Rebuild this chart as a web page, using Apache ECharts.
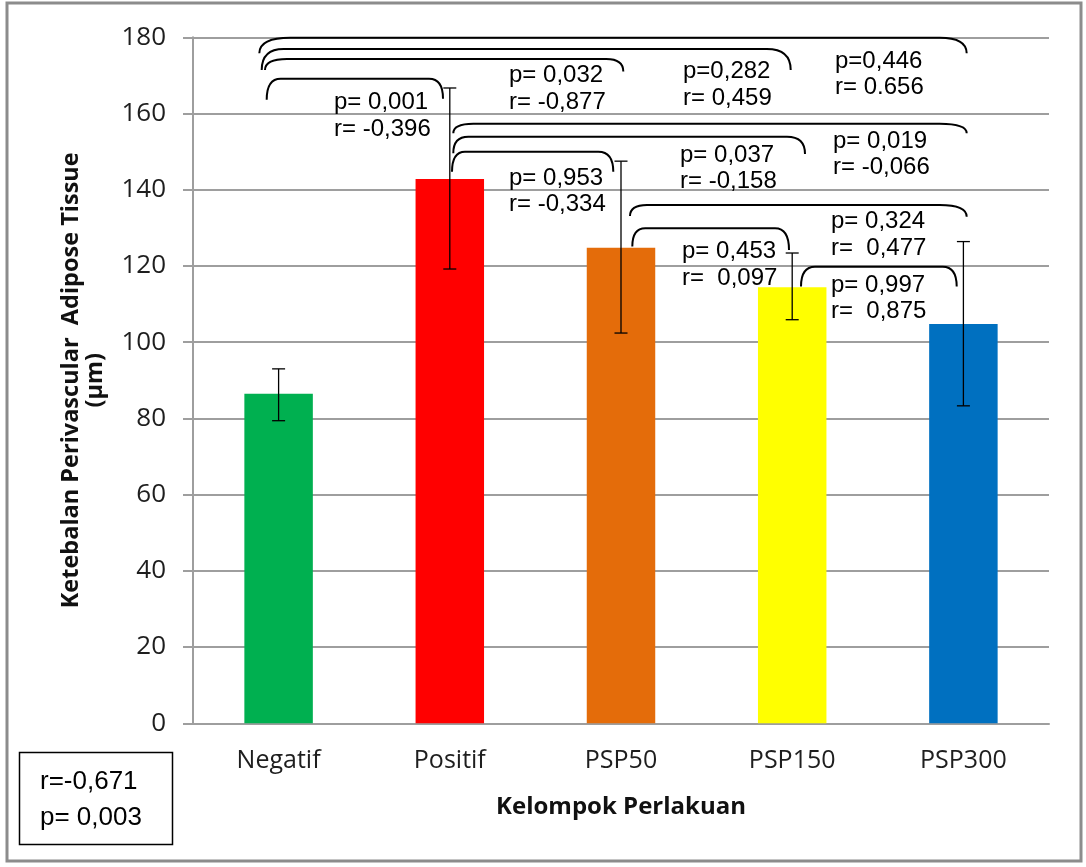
<!DOCTYPE html>
<html>
<head>
<meta charset="utf-8">
<script src="https://cdn.jsdelivr.net/npm/echarts@6/dist/echarts.min.js"></script>
<style>
  html, body { margin: 0; padding: 0; background: #ffffff; }
  #chart { width: 1086px; height: 867px; }
</style>
</head>
<body>
<div id="chart"></div>
<script>
// Treatment groups and mean thickness (µm)
const categories = ['Negatif', 'Positif', 'PSP50', 'PSP150', 'PSP300'];
const means = [86.5, 142.8, 124.8, 114.4, 104.8];
// Error bar limits
const errLow = [79.4, 119.2, 102.4, 105.9, 83.3];
const errHigh = [93.0, 166.7, 147.5, 123.4, 126.4];
const barColors = ['#00B050', '#FF0000', '#E46C0A', '#FFFF00', '#0070C0'];

// Y axis scale
const yMin = 0, yMax = 180, yStep = 20;

// Pairwise comparisons: [from group, to group]
const pairs = [[0, 1], [0, 2], [0, 3], [0, 4], [1, 2], [1, 3], [1, 4], [2, 3], [2, 4], [3, 4]];
const pTexts = ['p= 0,001', 'p= 0,032', 'p=0,282', 'p=0,446', 'p= 0,953', 'p= 0,037', 'p= 0,019', 'p= 0,453', 'p= 0,324', 'p= 0,997'];
const rTexts = ['r= -0,396', 'r= -0,877', 'r= 0,459', 'r= 0.656', 'r= -0,334', 'r= -0,158', 'r= -0,066', 'r=  0,097', 'r=  0,477', 'r=  0,875'];

// Overall correlation
const overallR = 'r=-0,671';
const overallP = 'p= 0,003';

// Bracket layout: [top level, left leg end, right leg end (axis units),
//   left x offset, right x offset, left curve width, right curve width (px),
//   label x offset from target group (px), label first-line level (axis units)]
const bracketLayout = [
  [169.1, 163.6, 163.9, -11.9, -6.8, 14, 14, -115.8, 162.8],
  [174.3, 171.4, 171.0, -13.6, 2.3, 22, 17, -112.0, 170.0],
  [176.9, 171.4, 171.4, -16.9, -1.5, 22, 24, -109.2, 171.0],
  [179.9, 175.8, 175.8, -19.3, 3.3, 31, 27, -128.4, 173.8],
  [150.0, 144.7, 144.7, 2.2, -7.7, 13, 15, -112.0, 143.1],
  [153.9, 149.6, 149.4, 3.5, 12.8, 15, 18, -112.2, 149.1],
  [157.3, 154.8, 154.8, 3.5, 3.3, 20, 27, -130.4, 152.7],
  [129.9, 125.1, 124.2, 11.3, -3.2, 13, 14, -110.2, 123.8],
  [136.0, 133.1, 132.9, 9.0, 3.3, 17, 27, -132.4, 131.7],
  [119.8, 114.6, 114.6, 8.8, -6.7, 14, 14, -132.4, 115.0]
];

const annotFont = '24px "Liberation Sans", Arial, sans-serif';
const boxFont = '26px "Liberation Sans", Arial, sans-serif';
const axisFont = '"Open Sans", sans-serif';
const gridColor = '#9e9e9e';

const chart = echarts.init(document.getElementById('chart'), null, { renderer: 'canvas' });

function renderErrorBar(params, api) {
  const i = api.value(0);
  const top = api.coord([i, api.value(2)]);
  const bot = api.coord([i, api.value(1)]);
  const cap = 6.5;
  const st = { stroke: '#000', lineWidth: 1.3 };
  return {
    type: 'group',
    children: [
      { type: 'line', shape: { x1: top[0], y1: top[1], x2: bot[0], y2: bot[1] }, style: st },
      { type: 'line', shape: { x1: top[0] - cap, y1: top[1], x2: top[0] + cap, y2: top[1] }, style: st },
      { type: 'line', shape: { x1: bot[0] - cap, y1: bot[1], x2: bot[0] + cap, y2: bot[1] }, style: st }
    ]
  };
}

function renderBracket(params, api) {
  const k = params.dataIndex;
  const from = pairs[k][0], to = pairs[k][1];
  const L = bracketLayout[k];
  const xL = api.coord([from, 0])[0] + L[3];
  const xR = api.coord([to, 0])[0] + L[4];
  const yTop = api.coord([from, L[0]])[1];
  const yLegL = api.coord([from, L[1]])[1];
  const yLegR = api.coord([to, L[2]])[1];
  const d = 'M' + xL + ',' + yLegL +
    ' Q' + xL + ',' + yTop + ' ' + (xL + L[5]) + ',' + yTop +
    ' L' + (xR - L[6]) + ',' + yTop +
    ' Q' + xR + ',' + yTop + ' ' + xR + ',' + yLegR;
  const lx = api.coord([to, 0])[0] + L[7];
  const ly = api.coord([to, L[8]])[1];
  const lineGap = 26.5;
  return {
    type: 'group',
    children: [
      { type: 'path', shape: { pathData: d }, style: { stroke: '#000', lineWidth: 2, fill: null } },
      { type: 'text', x: lx, y: ly, style: { text: pTexts[k], font: annotFont, fill: '#000', align: 'left', verticalAlign: 'middle' } },
      { type: 'text', x: lx, y: ly + lineGap, style: { text: rTexts[k], font: annotFont, fill: '#000', align: 'left', verticalAlign: 'middle' } }
    ]
  };
}

const option = {
  backgroundColor: '#ffffff',
  animation: false,
  grid: { left: 193, right: 37, top: 37.3, bottom: 143.7, containLabel: false },
  xAxis: {
    type: 'category',
    data: categories,
    axisLine: { lineStyle: { color: gridColor, width: 2 } },
    axisTick: { show: false },
    axisLabel: { fontFamily: axisFont, fontSize: 25, color: '#1e1e1e', margin: 25 },
    name: 'Kelompok Perlakuan',
    nameLocation: 'middle',
    nameGap: 72,
    nameTextStyle: { fontFamily: axisFont, fontSize: 24, fontWeight: 'bold', color: '#111' }
  },
  yAxis: {
    type: 'value',
    min: yMin, max: yMax, interval: yStep,
    axisLine: { show: true, lineStyle: { color: gridColor, width: 2 } },
    axisTick: { show: true, length: 10, lineStyle: { color: gridColor, width: 2 } },
    splitLine: { lineStyle: { color: gridColor, width: 2 } },
    axisLabel: { fontFamily: axisFont, fontSize: 26, color: '#1e1e1e', margin: 27 },
    name: 'Ketebalan Perivascular  Adipose Tissue\n(µm)',
    nameLocation: 'middle',
    nameRotate: 90,
    nameGap: 86,
    nameTextStyle: { fontFamily: axisFont, fontSize: 23.5, fontWeight: 'bold', color: '#111', lineHeight: 24, align: 'center' }
  },
  series: [
    {
      type: 'bar',
      barWidth: '40%',
      data: means.map((v, i) => ({ value: v, itemStyle: { color: barColors[i] } })),
      z: 2
    },
    {
      type: 'custom',
      renderItem: renderErrorBar,
      data: categories.map((c, i) => [i, errLow[i], errHigh[i]]),
      z: 3
    },
    {
      type: 'custom',
      renderItem: renderBracket,
      data: pairs.map((p, i) => [p[0], bracketLayout[i][0]]),
      clip: false,
      z: 4
    }
  ],
  graphic: [
    {
      type: 'rect',
      shape: { x: 7, y: 3, width: 1074, height: 858 },
      style: { fill: null, stroke: '#8c8c8c', lineWidth: 3 },
      silent: true
    },
    {
      type: 'rect',
      shape: { x: 19.5, y: 752.5, width: 153, height: 92 },
      style: { fill: '#fff', stroke: '#000', lineWidth: 1.5 },
      silent: true
    },
    {
      type: 'text', x: 40, y: 782,
      style: { text: overallR, font: boxFont, fill: '#000', verticalAlign: 'middle' }
    },
    {
      type: 'text', x: 40, y: 818,
      style: { text: overallP, font: boxFont, fill: '#000', verticalAlign: 'middle' }
    }
  ]
};

chart.setOption(option);
</script>
</body>
</html>
